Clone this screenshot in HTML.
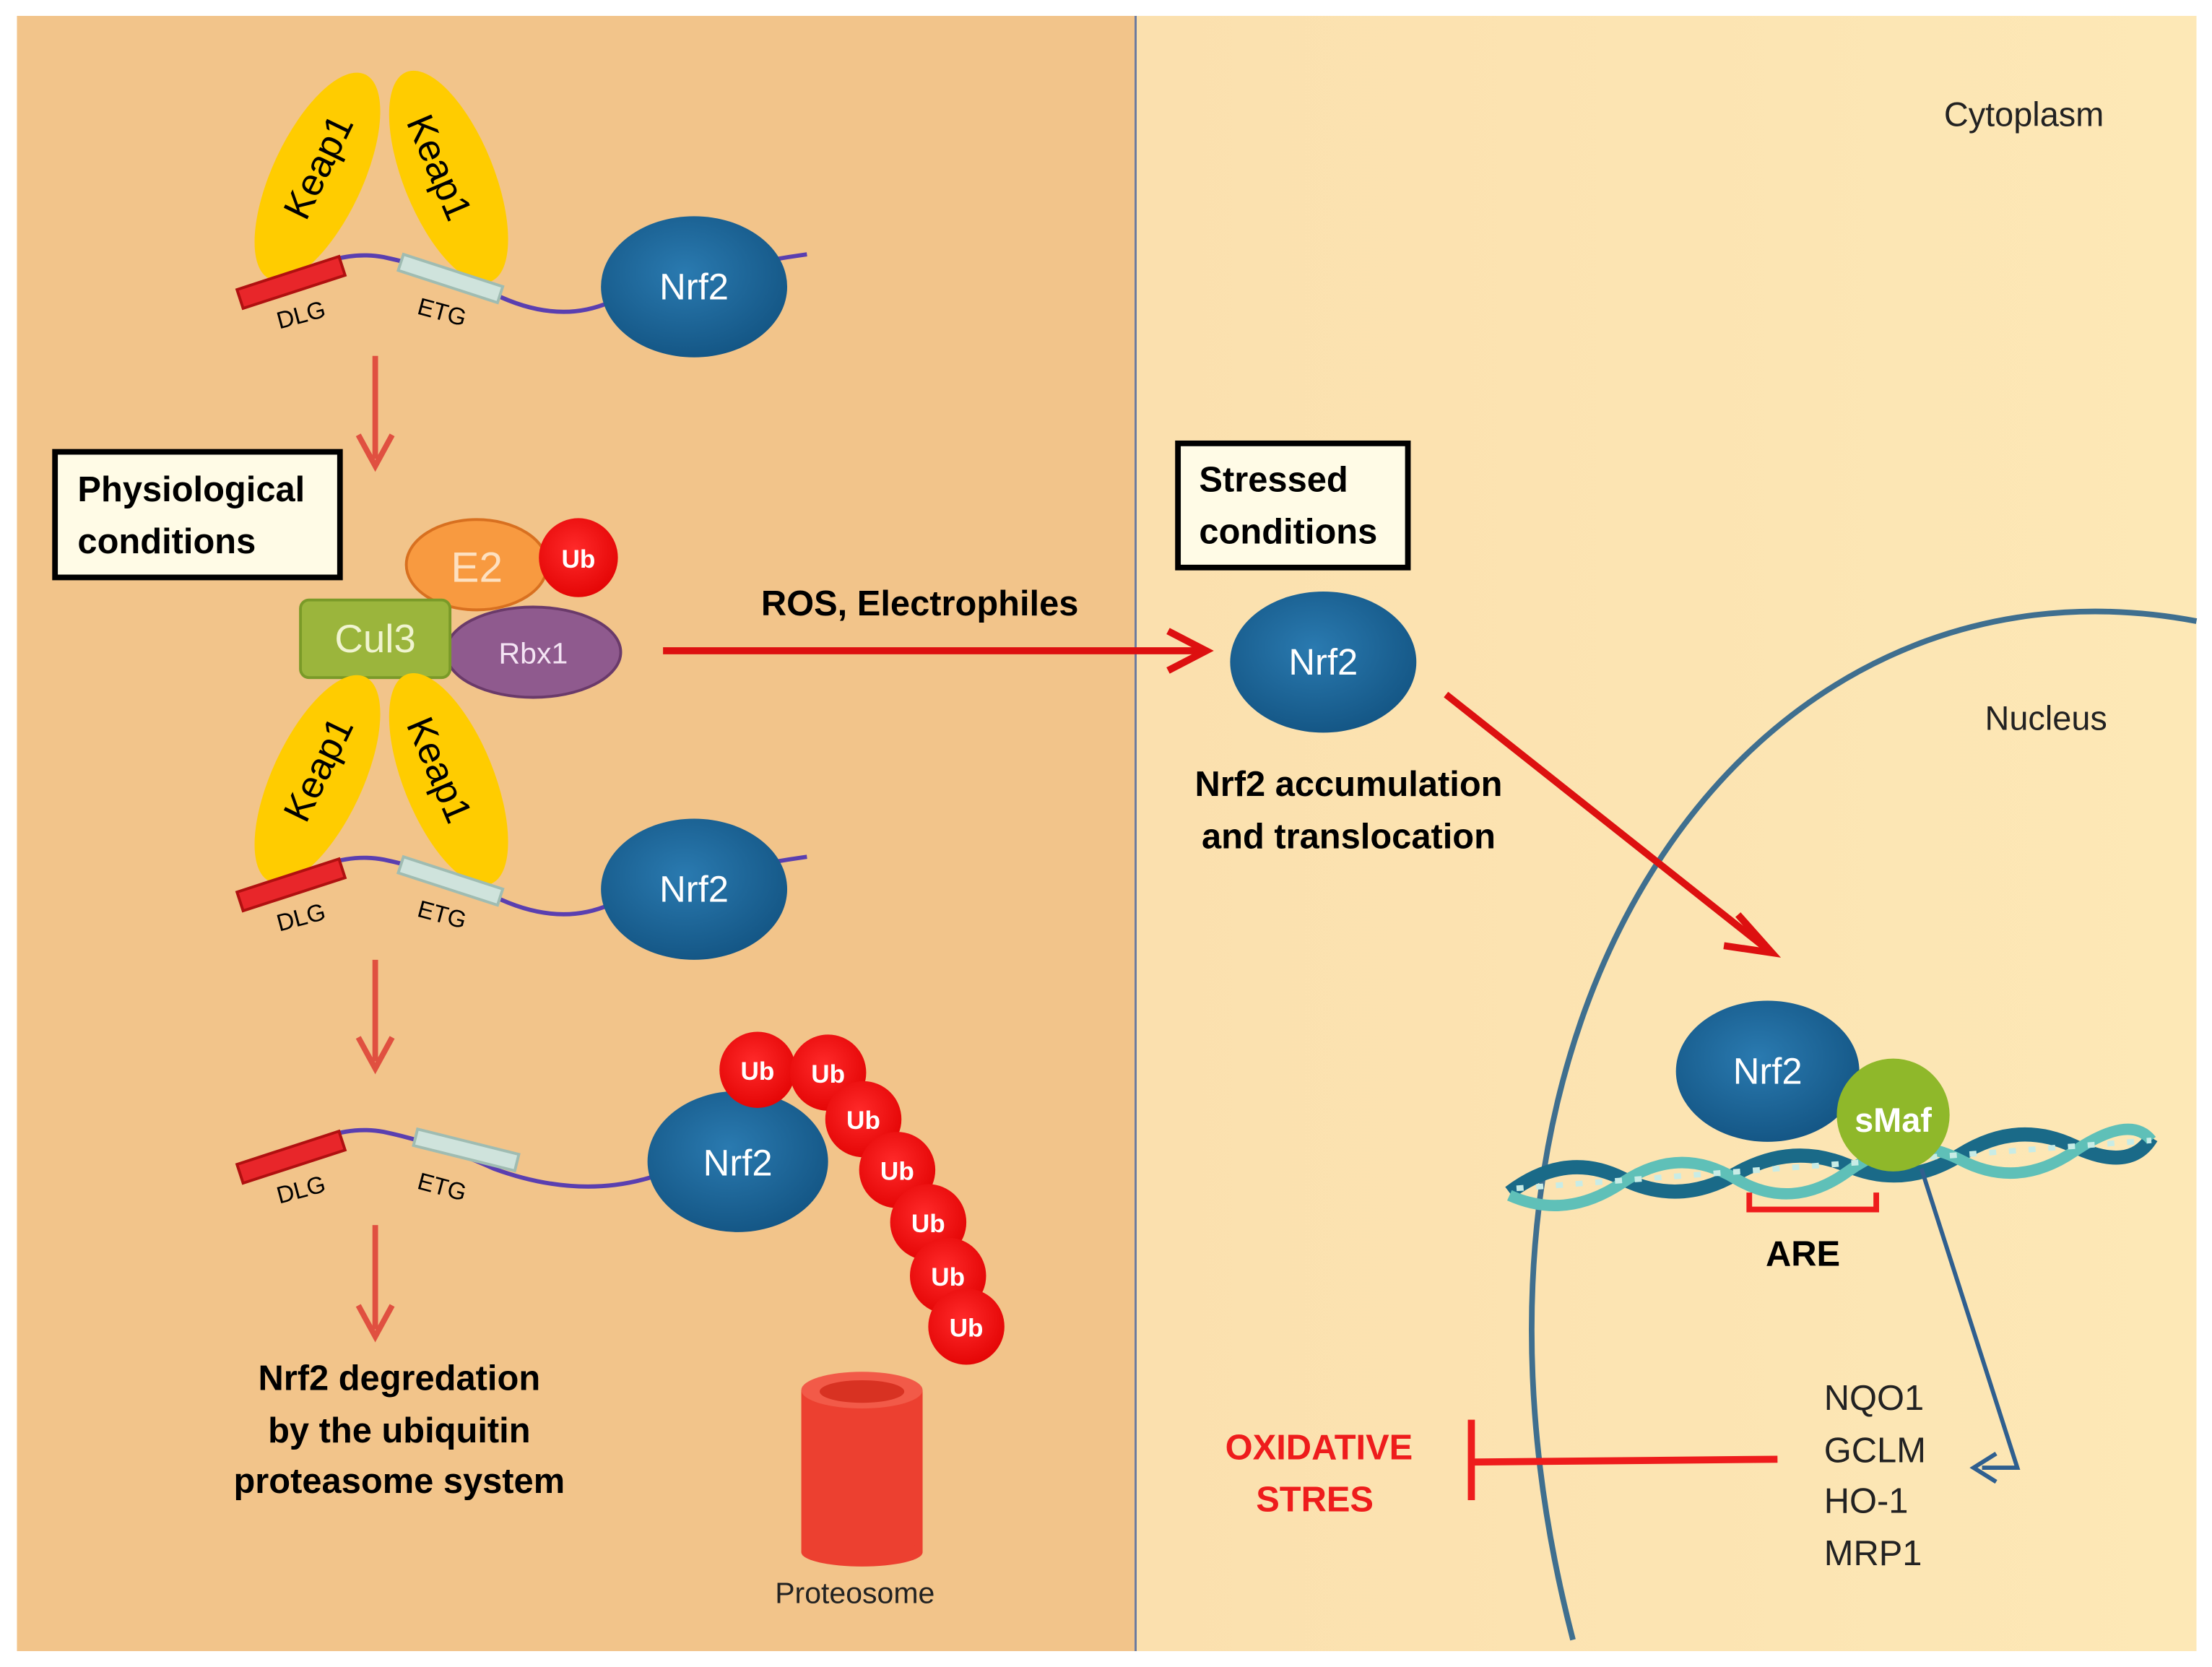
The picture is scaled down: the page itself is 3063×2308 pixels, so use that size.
<!DOCTYPE html>
<html><head><meta charset="utf-8"><style>html,body{margin:0;padding:0;background:#fff}svg{display:block}</style></head><body>
<svg width="3063" height="2308" viewBox="0 0 1568 1181" xmlns="http://www.w3.org/2000/svg" font-family="Liberation Sans, sans-serif">
<defs>
<radialGradient id="nrf" cx="0.45" cy="0.4" r="0.7"><stop offset="0" stop-color="#2a7ab0"/><stop offset="1" stop-color="#11517f"/></radialGradient>
<radialGradient id="ub" cx="0.45" cy="0.4" r="0.7"><stop offset="0" stop-color="#ff2a2a"/><stop offset="1" stop-color="#e00000"/></radialGradient>
<linearGradient id="rbg" x1="0" x2="1"><stop offset="0" stop-color="#fbe0ae"/><stop offset="1" stop-color="#fde8b6"/></linearGradient>
<g id="chain">
<path d="M205,198 Q240,176 272,182 Q310,190 350,208 Q395,230 432,214" fill="none" stroke="#5a3fb0" stroke-width="3"/>
<rect x="0" y="0" width="76" height="14" fill="#e8262a" stroke="#b01010" stroke-width="2" transform="translate(168,205) rotate(-18)"/>
<rect x="0" y="0" width="74" height="12" fill="#cfe3dc" stroke="#9fbcb2" stroke-width="2" transform="translate(286,180) rotate(18)"/>
<text x="0" y="0" font-size="17" transform="translate(198,233) rotate(-15)">DLG</text>
<text x="0" y="0" font-size="17" transform="translate(295,222) rotate(15)">ETG</text>
</g>
<g id="keap">
<ellipse cx="225" cy="125" rx="32" ry="80" fill="#ffcc00" transform="rotate(25 225 125)"/>
<ellipse cx="318" cy="125" rx="32" ry="80" fill="#ffcc00" transform="rotate(-22 318 125)"/>
<text font-size="27" text-anchor="middle" transform="translate(234,122) rotate(-64)">Keap1</text>
<text font-size="27" text-anchor="middle" transform="translate(303,122) rotate(67)">Keap1</text>
</g>
</defs>
<rect x="0" y="0" width="1568" height="1181" fill="#fff"/>
<rect x="12" y="11" width="793" height="1159" fill="#f2c48a"/>
<rect x="805" y="11" width="752" height="1159" fill="url(#rbg)"/>
<line x1="805" y1="11" x2="805" y2="1170" stroke="#6a7aa0" stroke-width="1.5"/>
<text x="1378" y="89" font-size="24" fill="#222">Cytoplasm</text>
<text x="1407" y="517" font-size="24" fill="#222">Nucleus</text>
<path d="M1557,440 C1240,380 1000,720 1115,1162" fill="none" stroke="#3f6f8f" stroke-width="4"/>
<use href="#keap"/>
<use href="#chain"/>
<path d="M430,214 Q500,190 572,180" fill="none" stroke="#5a3fb0" stroke-width="3"/>
<ellipse cx="492" cy="203" rx="66" ry="50" fill="url(#nrf)"/>
<text x="492" y="212" font-size="26" fill="#fff" text-anchor="middle">Nrf2</text>
<line x1="266" y1="252" x2="266" y2="325" stroke="#e05040" stroke-width="4"/>
<path d="M254,308 L266,330 L278,308" fill="none" stroke="#e05040" stroke-width="4"/>
<rect x="39" y="320" width="202" height="89" fill="#fffbe6" stroke="#000" stroke-width="4"/>
<text x="55" y="355" font-size="25" font-weight="bold">Physiological</text>
<text x="55" y="392" font-size="25" font-weight="bold">conditions</text>
<ellipse cx="338" cy="400" rx="50" ry="32" fill="#f89a40" stroke="#d87020" stroke-width="2"/>
<text x="338" y="412" font-size="30" fill="#fde0c0" text-anchor="middle">E2</text>
<ellipse cx="410" cy="395" rx="28" ry="28" fill="url(#ub)"/>
<text x="410" y="402" font-size="18" fill="#fff" font-weight="bold" text-anchor="middle">Ub</text>
<ellipse cx="378" cy="462" rx="62" ry="32" fill="#8f5a8e" stroke="#6a3a6a" stroke-width="2"/>
<text x="378" y="470" font-size="21" fill="#f4e4f4" text-anchor="middle">Rbx1</text>
<rect x="213" y="425" width="106" height="55" rx="6" fill="#9bb53c" stroke="#7a9a28" stroke-width="2"/>
<text x="266" y="462" font-size="28" fill="#f0f4d0" text-anchor="middle">Cul3</text>
<g transform="translate(0,427)">
<use href="#keap"/>
<use href="#chain"/>
<path d="M430,214 Q500,190 572,180" fill="none" stroke="#5a3fb0" stroke-width="3"/>
<ellipse cx="492" cy="203" rx="66" ry="50" fill="url(#nrf)"/>
<text x="492" y="212" font-size="26" fill="#fff" text-anchor="middle">Nrf2</text>
</g>
<line x1="266" y1="680" x2="266" y2="752" stroke="#e05040" stroke-width="4"/>
<path d="M254,735 L266,757 L278,735" fill="none" stroke="#e05040" stroke-width="4"/>
<g transform="translate(0,620)">
<path d="M205,198 Q240,176 272,182 Q310,190 350,208 Q410,230 462,214" fill="none" stroke="#5a3fb0" stroke-width="3"/>
<rect x="0" y="0" width="76" height="14" fill="#e8262a" stroke="#b01010" stroke-width="2" transform="translate(168,205) rotate(-18)"/>
<rect x="0" y="0" width="74" height="12" fill="#cfe3dc" stroke="#9fbcb2" stroke-width="2" transform="translate(296,180) rotate(14)"/>
<text font-size="17" transform="translate(198,233) rotate(-15)">DLG</text>
<text font-size="17" transform="translate(295,222) rotate(15)">ETG</text>
</g>
<ellipse cx="523" cy="823" rx="64" ry="50" fill="url(#nrf)"/>
<text x="523" y="833" font-size="26" fill="#fff" text-anchor="middle">Nrf2</text>
<g fill="url(#ub)">
<circle cx="537" cy="758" r="27"/><circle cx="587" cy="760" r="27"/><circle cx="612" cy="793" r="27"/>
<circle cx="636" cy="829" r="27"/><circle cx="658" cy="866" r="27"/><circle cx="672" cy="904" r="27"/><circle cx="685" cy="940" r="27"/>
</g>
<g font-size="18" font-weight="bold" fill="#fff" text-anchor="middle">
<text x="537" y="765">Ub</text><text x="587" y="767">Ub</text><text x="612" y="800">Ub</text>
<text x="636" y="836">Ub</text><text x="658" y="873">Ub</text><text x="672" y="911">Ub</text><text x="685" y="947">Ub</text>
</g>
<line x1="266" y1="868" x2="266" y2="942" stroke="#e05040" stroke-width="4"/>
<path d="M254,925 L266,947 L278,925" fill="none" stroke="#e05040" stroke-width="4"/>
<g font-size="25" font-weight="bold" text-anchor="middle">
<text x="283" y="985">Nrf2 degredation</text>
<text x="283" y="1022">by the ubiquitin</text>
<text x="283" y="1058">proteasome system</text>
</g>
<rect x="568" y="985" width="86" height="115" fill="#ec4030"/>
<ellipse cx="611" cy="1100" rx="43" ry="10" fill="#ec4030"/>
<ellipse cx="611" cy="985" rx="43" ry="13" fill="#f25a48"/>
<ellipse cx="611" cy="986" rx="30" ry="8" fill="#d83222"/>
<text x="606" y="1136" font-size="21" text-anchor="middle" fill="#222">Proteosome</text>
<text x="652" y="436" font-size="25" font-weight="bold" text-anchor="middle">ROS, Electrophiles</text>
<line x1="470" y1="461" x2="850" y2="461" stroke="#dd1010" stroke-width="5"/>
<path d="M828,447 L855,461 L828,475" fill="none" stroke="#dd1010" stroke-width="5"/>
<rect x="835" y="314" width="163" height="88" fill="#fffbe6" stroke="#000" stroke-width="4"/>
<text x="850" y="348" font-size="25" font-weight="bold">Stressed</text>
<text x="850" y="385" font-size="25" font-weight="bold">conditions</text>
<ellipse cx="938" cy="469" rx="66" ry="50" fill="url(#nrf)"/>
<text x="938" y="478" font-size="26" fill="#fff" text-anchor="middle">Nrf2</text>
<text x="956" y="564" font-size="25" font-weight="bold" text-anchor="middle">Nrf2 accumulation</text>
<text x="956" y="601" font-size="25" font-weight="bold" text-anchor="middle">and translocation</text>
<line x1="1025" y1="492" x2="1252" y2="672" stroke="#dd1010" stroke-width="5"/>
<path d="M1232,648 L1256,675 L1222,670" fill="none" stroke="#dd1010" stroke-width="5"/>
<g fill="none">
<path d="M1070,845 Q1110,815 1150,835 T1230,832 T1310,826 T1390,818 T1470,812 T1525,806" stroke="#1a6a88" stroke-width="10"/>
<path d="M1070,847 Q1110,865 1150,838 T1230,835 T1310,830 T1390,822 T1470,816 T1525,808" stroke="#5fc0b8" stroke-width="8"/>
<path d="M1075,842 L1525,808" stroke="#c8ece6" stroke-width="4" stroke-dasharray="5 9"/>
</g>
<ellipse cx="1253" cy="759" rx="65" ry="50" fill="url(#nrf)"/>
<text x="1253" y="768" font-size="26" fill="#fff" text-anchor="middle">Nrf2</text>
<circle cx="1342" cy="790" r="40" fill="#8fb82a"/>
<text x="1342" y="802" font-size="24" font-weight="bold" fill="#fff" text-anchor="middle">sMaf</text>
<path d="M1240,845 L1240,857 L1330,857 L1330,845" fill="none" stroke="#ee1c1c" stroke-width="4"/>
<text x="1278" y="897" font-size="25" font-weight="bold" text-anchor="middle">ARE</text>
<path d="M1362,828 L1430,1040 L1405,1040" fill="none" stroke="#2f5f8f" stroke-width="3"/>
<path d="M1415,1030 L1399,1040 L1415,1050" fill="none" stroke="#2f5f8f" stroke-width="3"/>
<g font-size="25" fill="#222">
<text x="1293" y="999">NQO1</text><text x="1293" y="1036">GCLM</text><text x="1293" y="1072">HO-1</text><text x="1293" y="1109">MRP1</text>
</g>
<line x1="1043" y1="1036" x2="1260" y2="1034" stroke="#ee1c1c" stroke-width="5"/>
<line x1="1043" y1="1006" x2="1043" y2="1063" stroke="#ee1c1c" stroke-width="5"/>
<text x="935" y="1034" font-size="25" font-weight="bold" fill="#ee1c1c" text-anchor="middle">OXIDATIVE</text>
<text x="932" y="1071" font-size="25" font-weight="bold" fill="#ee1c1c" text-anchor="middle">STRES</text>
</svg>
</body></html>
